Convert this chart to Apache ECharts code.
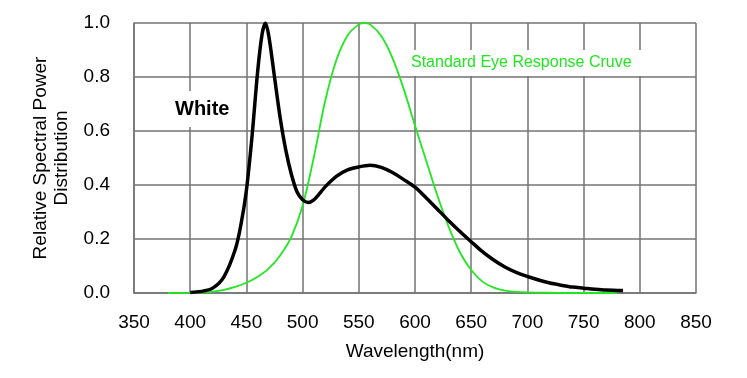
<!DOCTYPE html>
<html>
<head>
<meta charset="utf-8">
<script src="https://cdn.jsdelivr.net/npm/echarts@6/dist/echarts.min.js"></script>
<style>
html,body{margin:0;padding:0;background:#fff;}
#chart{width:747px;height:378px;}
</style>
</head>
<body>
<div id="chart"></div>
<script>
// Tick settings
var xTicks = [350, 400, 450, 500, 550, 600, 650, 700, 750, 800, 850];
var yTicks = [0.0, 0.2, 0.4, 0.6, 0.8, 1.0];

// White LED spectrum (black curve)
var whiteWl = [400,410,420,430,440,445,450,455,460,464,467,470,475,480,485,490,495,500,505,510,515,520,530,540,550,560,570,580,590,600,610,620,630,640,650,660,670,680,690,700,710,720,730,740,750,760,770,785];
var whiteVal = [0.002,0.006,0.018,0.06,0.16,0.25,0.38,0.58,0.82,0.96,1.0,0.95,0.80,0.65,0.53,0.44,0.375,0.345,0.335,0.345,0.368,0.393,0.432,0.456,0.467,0.473,0.465,0.446,0.42,0.392,0.352,0.31,0.268,0.228,0.19,0.153,0.122,0.096,0.076,0.061,0.048,0.037,0.029,0.022,0.018,0.014,0.011,0.009];

// Standard eye response (green curve)
var eyeWl = [380,390,400,410,420,430,440,450,460,470,480,490,500,510,520,530,540,550,555,560,570,580,590,600,610,620,630,640,650,660,670,680,690,700,720,740,760,780];
var eyeVal = [0,0.0002,0.0006,0.002,0.005,0.012,0.023,0.038,0.06,0.091,0.139,0.208,0.323,0.503,0.71,0.862,0.954,0.995,1.0,0.995,0.952,0.87,0.755,0.62,0.49,0.36,0.245,0.15,0.085,0.042,0.02,0.009,0.004,0.002,0.001,0,0,0];

function pairs(xs, ys){ return xs.map(function(x,i){ return [x, ys[i]]; }); }

var gridColor = '#737373';
var green = '#22e622';

var chart = echarts.init(document.getElementById('chart'), null, {renderer:'canvas'});
chart.setOption({
  animation: false,
  backgroundColor: '#fff',
  textStyle: {fontFamily: 'Liberation Sans, Arial, sans-serif'},
  title: [
    {
      text: 'White', left: 165, top: 91,
      padding: [8, 10, 8, 10], backgroundColor: '#fff',
      textStyle: {fontSize: 20, fontWeight: 'bold', color: '#000', fontFamily: 'Liberation Sans, Arial, sans-serif'}
    },
    {
      text: 'Standard Eye Response Cruve', left: 407, top: 50,
      padding: [5, 12, 5, 4], backgroundColor: '#fff',
      textStyle: {fontSize: 16, fontWeight: 'normal', color: green, fontFamily: 'Liberation Sans, Arial, sans-serif'}
    }
  ],
  grid: {left: 134, right: 51, top: 23, bottom: 85, containLabel: false},
  xAxis: {
    type: 'value', min: xTicks[0], max: xTicks[xTicks.length-1], interval: 50,
    name: 'Wavelength(nm)', nameLocation: 'middle', nameGap: 49,
    nameTextStyle: {fontSize: 19, color: '#000'},
    axisLine: {show: true, lineStyle: {color: gridColor, width: 1.5}},
    axisTick: {show: false},
    axisLabel: {fontSize: 19, color: '#000', margin: 20},
    splitLine: {show: true, lineStyle: {color: gridColor, width: 1.5}}
  },
  yAxis: {
    type: 'value', min: yTicks[0], max: yTicks[yTicks.length-1], interval: 0.2,
    name: 'Relative Spectral Power\nDistribution', nameLocation: 'middle', nameGap: 60, nameRotate: 90,
    nameTextStyle: {fontSize: 19, color: '#000', lineHeight: 21},
    axisLine: {show: true, lineStyle: {color: gridColor, width: 1.5}},
    axisTick: {show: false},
    axisLabel: {fontSize: 19, color: '#000', margin: 24, formatter: function(v){ return v.toFixed(1); }},
    splitLine: {show: true, lineStyle: {color: gridColor, width: 1.5}}
  },
  series: [
    {
      type: 'line', name: 'Standard Eye Response', data: pairs(eyeWl, eyeVal),
      showSymbol: false, smooth: 0.3, lineStyle: {color: green, width: 1.8}, z: 2
    },
    {
      type: 'line', name: 'White', data: pairs(whiteWl, whiteVal),
      showSymbol: false, smooth: 0.3, lineStyle: {color: '#000', width: 3.5}, z: 3
    }
  ]
});
</script>
</body>
</html>
